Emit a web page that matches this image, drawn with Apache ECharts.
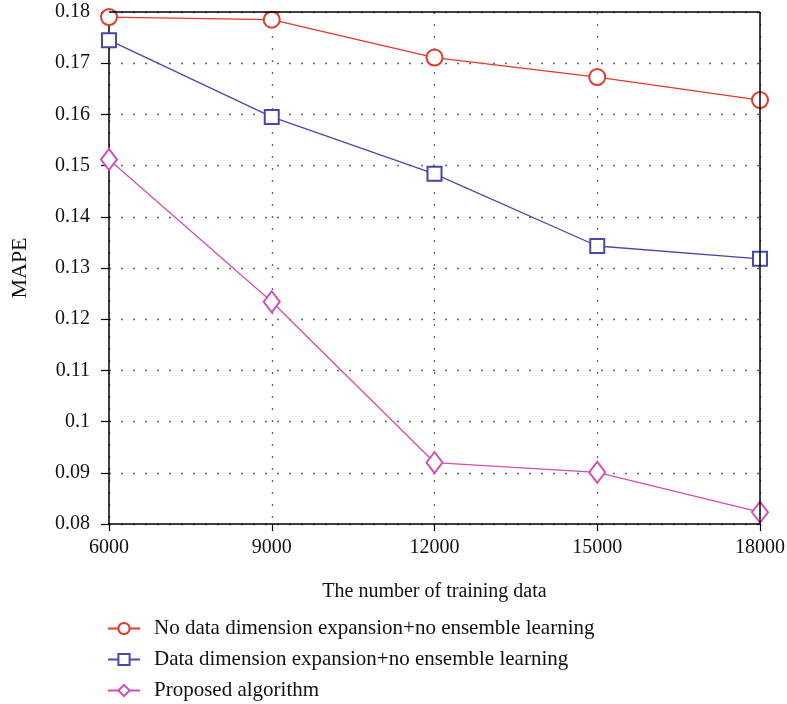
<!DOCTYPE html>
<html>
<head>
<meta charset="utf-8">
<script src="https://cdn.jsdelivr.net/npm/echarts@6/dist/echarts.min.js"></script>
<style>
  html, body { margin: 0; padding: 0; background: #fff; }
  #chart { width: 787px; height: 704px; }
</style>
</head>
<body>
<div id="chart"></div>
<script>
// data
var trainingSizes = [6000, 9000, 12000, 15000, 18000];
var noExpNoEns = [0.1790, 0.1785, 0.1711, 0.1673, 0.1628];
var expNoEns = [0.1745, 0.1595, 0.1484, 0.1343, 0.1318];
var proposed = [0.1512, 0.1234, 0.0920, 0.0901, 0.0823];
var seriesNames = [
    'No data dimension expansion+no ensemble learning',
    'Data dimension expansion+no ensemble learning',
    'Proposed algorithm'
];

function pairs(vals) {
    return trainingSizes.map(function (x, i) { return [x, vals[i]]; });
}

(function () {
    var chart = echarts.init(document.getElementById('chart'));
    var font = '"Liberation Serif", "DejaVu Serif", serif';
    var dotted = { color: '#666', type: [2, 10], width: 1.3 };

    var option = {
        animation: false,
        textStyle: { fontFamily: font },
        grid: { left: 109, right: 27, top: 12, bottom: 180, outerBoundsMode: 'none' },
        legend: {
            orient: 'vertical',
            left: 102,
            top: 613,
            height: 120,
            itemWidth: 32,
            itemHeight: 14,
            itemGap: 10,
            textStyle: { fontFamily: font, fontSize: 21, color: '#111', padding: [0, 0, 0, 9] },
            data: seriesNames
        },
        xAxis: {
            type: 'value',
            min: 6000,
            max: 18000,
            interval: 3000,
            name: 'The number of training data',
            nameLocation: 'middle',
            nameGap: 58,
            nameTextStyle: { fontFamily: font, fontSize: 20, color: '#111' },
            axisLine: { lineStyle: { color: '#000', width: 1.5 } },
            axisTick: { inside: false, length: 7, lineStyle: { color: '#000', width: 1.2 } },
            axisLabel: {
                fontFamily: font, fontSize: 20, color: '#111', margin: 14,
                formatter: function (v) { return String(v); }
            },
            splitLine: { show: true, lineStyle: dotted }
        },
        yAxis: {
            type: 'value',
            min: 0.08,
            max: 0.18,
            interval: 0.01,
            name: 'MAPE',
            nameLocation: 'middle',
            nameGap: 78,
            nameTextStyle: { fontFamily: font, fontSize: 22, color: '#111' },
            axisLine: { show: true, lineStyle: { color: '#000', width: 1.5 } },
            axisTick: { show: true, length: 8, lineStyle: { color: '#000', width: 1.2 } },
            axisLabel: {
                fontFamily: font, fontSize: 20, color: '#111', margin: 19,
                formatter: function (v) { return String(+v.toFixed(2)); }
            },
            splitLine: { show: true, lineStyle: dotted }
        },
        series: [
            {
                name: seriesNames[0],
                type: 'line',
                data: pairs(noExpNoEns),
                symbol: 'emptyCircle',
                symbolSize: 16,
                color: '#e5372b',
                lineStyle: { width: 1.3 },
                itemStyle: { borderWidth: 1.3 },
                markLine: {
                    silent: true,
                    symbol: 'none',
                    label: { show: false },
                    lineStyle: { color: '#000', type: 'solid', width: 1.5 },
                    data: [
                        [{ coord: [6000, 0.18] }, { coord: [18000, 0.18] }],
                        [{ coord: [18000, 0.08] }, { coord: [18000, 0.18] }]
                    ]
                }
            },
            {
                name: seriesNames[1],
                type: 'line',
                data: pairs(expNoEns),
                symbol: 'emptyRect',
                symbolSize: 14,
                color: '#4548ae',
                lineStyle: { width: 1.3 },
                itemStyle: { borderWidth: 1.3 }
            },
            {
                name: seriesNames[2],
                type: 'line',
                data: pairs(proposed),
                symbol: 'emptyDiamond',
                symbolSize: [16, 21],
                color: '#d34db9',
                lineStyle: { width: 1.3 },
                itemStyle: { borderWidth: 1.3 }
            }
        ]
    };
    chart.setOption(option);
})();
</script>
</body>
</html>
